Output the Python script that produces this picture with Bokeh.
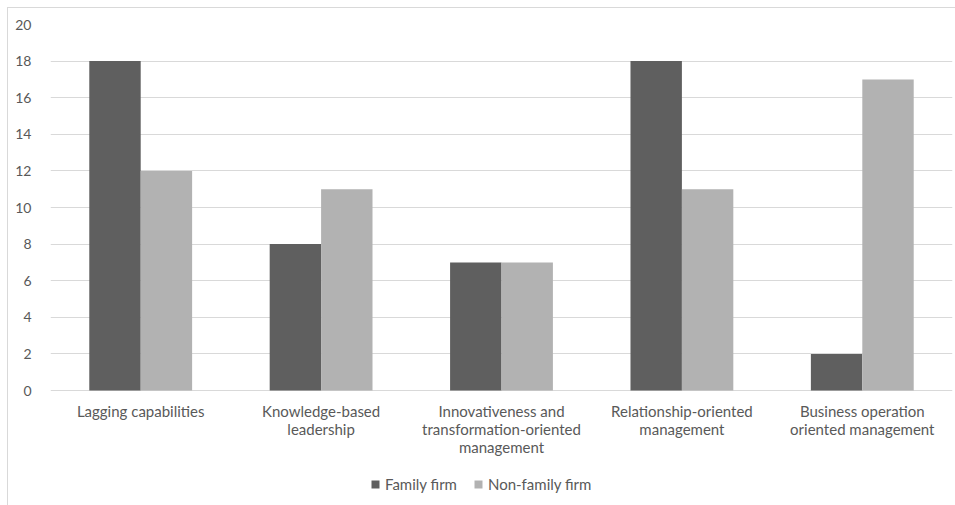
from bokeh.plotting import figure
from bokeh.models import ColumnDataSource, FactorRange, Legend, LegendItem, Range1d, FixedTicker
from bokeh.transform import dodge
from bokeh.embed import file_html
from bokeh.resources import INLINE

categories = [
    "Lagging capabilities",
    "Knowledge-based\nleadership",
    "Innovativeness and\ntransformation-oriented\nmanagement",
    "Relationship-oriented\nmanagement",
    "Business operation\noriented management",
]
family_firm = [18, 8, 7, 18, 2]
non_family_firm = [12, 11, 7, 11, 17]
baseline = [0, 0, 0, 0, 0]
y_ticks = [0, 2, 4, 6, 8, 10, 12, 14, 16, 18, 20]

FONT = "Lato"
TXT = "#595959"
GRID = "#d9d9d9"

# plot area: value axis 0..20 occupies 366 px of a 481 px frame;
# the rest below holds category labels and the legend
FRAME_H = 481
AXIS_H = 366
Y_MAX = 20
y_min = -Y_MAX * (FRAME_H - AXIS_H) / AXIS_H

src = ColumnDataSource(dict(cat=categories, fam=family_firm, non=non_family_firm, base=baseline))

p = figure(
    x_range=FactorRange(*categories, range_padding=0),
    y_range=Range1d(y_min, Y_MAX),
    frame_width=902, frame_height=FRAME_H,
    output_backend="svg", toolbar_location=None,
    min_border_left=42, min_border_right=3, min_border_top=16, min_border_bottom=0,
)
p.margin = (7, 0, 0, 7)
p.styles = {"border-left": "1px solid #d9d9d9", "border-top": "1px solid #d9d9d9"}
p.outline_line_color = None
p.background_fill_color = "white"
p.border_fill_color = "white"

r1 = p.vbar(x=dodge("cat", -0.1425, range=p.x_range), top="fam", width=0.285, source=src,
            fill_color="#5f5f5f", line_color=None)
r2 = p.vbar(x=dodge("cat", 0.1425, range=p.x_range), top="non", width=0.285, source=src,
            fill_color="#b2b2b2", line_color=None)

# category labels under the baseline
p.text(x="cat", y="base", text="cat", source=src, y_offset=11,
       text_align="center", text_baseline="top",
       text_font={"value": FONT}, text_font_size="15px", text_color=TXT,
       text_line_height=1.0)

p.yaxis.ticker = FixedTicker(ticks=y_ticks)
p.yaxis.axis_line_color = None
p.yaxis.major_tick_line_color = None
p.yaxis.minor_tick_line_color = None
p.yaxis.major_label_standoff = 13
p.yaxis.major_label_text_font = FONT
p.yaxis.major_label_text_font_size = "14px"
p.yaxis.major_label_text_color = TXT
p.xaxis.visible = False

p.xgrid.grid_line_color = None
p.ygrid.grid_line_color = GRID
p.ygrid.grid_line_width = 1

legend = Legend(
    items=[LegendItem(label="Family firm", renderers=[r1]),
           LegendItem(label="Non-family firm", renderers=[r2])],
    orientation="horizontal",
    location=(320, 12),
    border_line_color=None, background_fill_alpha=0,
    label_text_font=FONT, label_text_font_size="15px", label_text_color=TXT,
    glyph_width=10, glyph_height=10, label_standoff=5, spacing=16,
    padding=0, margin=0,
)
p.add_layout(legend, "center")

open("out.html", "w").write(file_html(p, INLINE))
